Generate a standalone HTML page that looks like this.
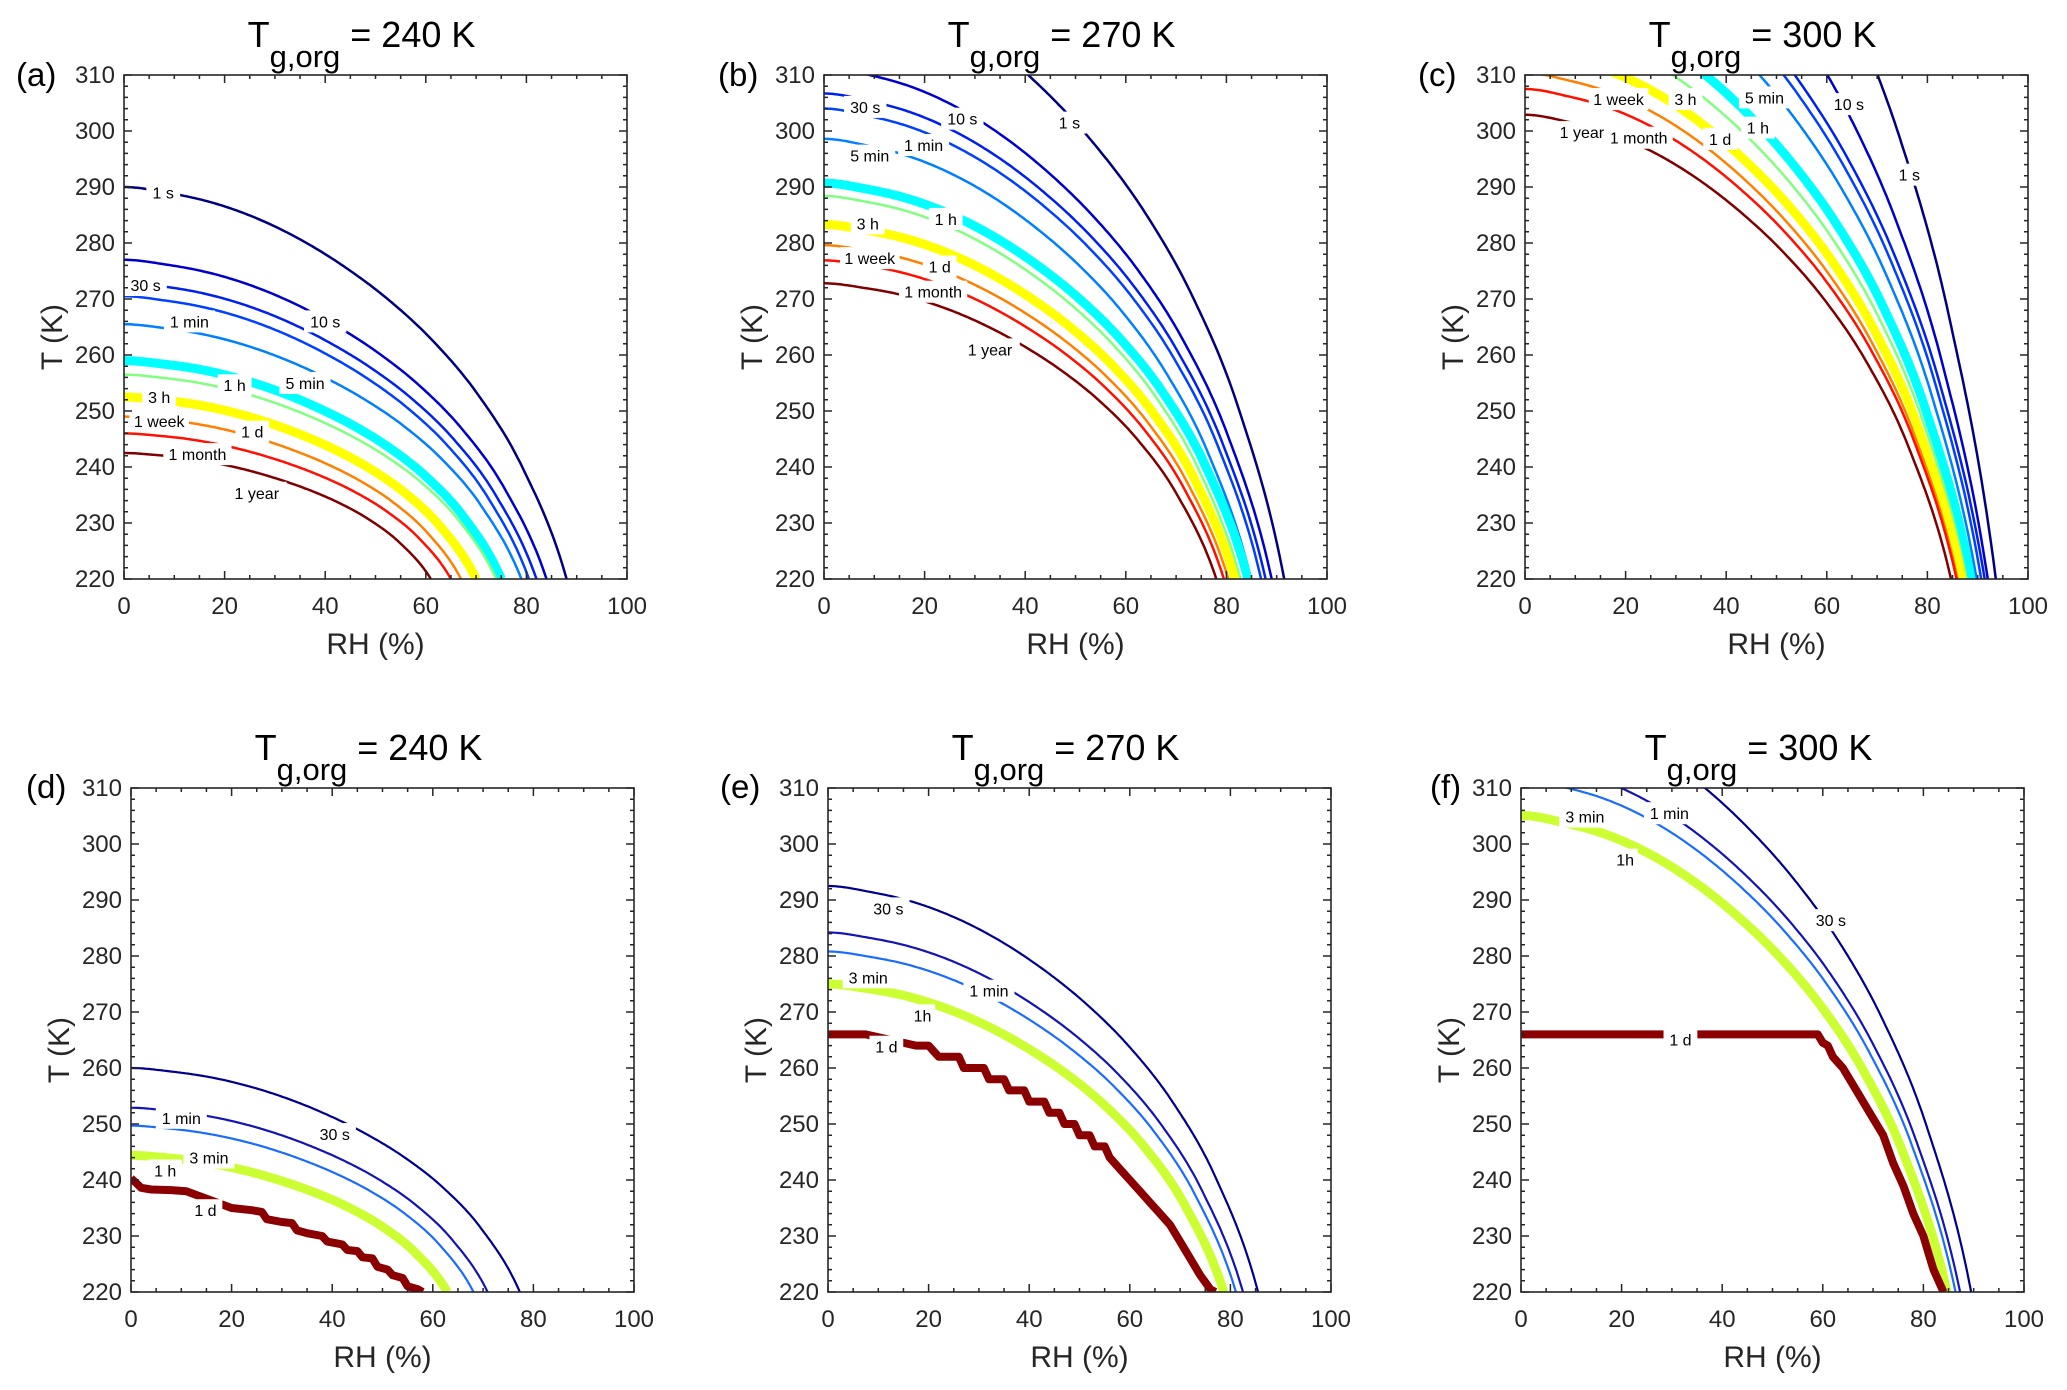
<!DOCTYPE html>
<html><head><meta charset="utf-8"><title>Contours of T vs RH for three T_g,org values</title>
<style>
html,body{margin:0;padding:0;background:#fff;}
svg{display:block;font-family:"Liberation Sans",Arial,sans-serif;}
</style></head>
<body>
<svg id="fig" width="2067" height="1390" viewBox="0 0 2067 1390" xmlns="http://www.w3.org/2000/svg">
<rect width="2067" height="1390" fill="#fff"/>
</svg>
<script>
// ---- shared axis data ----
const xTicksMajor = [0,20,40,60,80,100];
const yTicksMajor = [220,230,240,250,260,270,280,290,300,310];
// normalized contour shape profile (u = RH/RH0 on a uniform grid, f = (T-220)/(T0-220))
const shapeF = [1,0.985,0.96,0.92,0.865,0.795,0.71,0.605,0.47,0.285,0];

// ---- panel (a) ----
const aNames = ["1 s","10 s","30 s","1 min","5 min","1 h","3 h","1 d","1 week","1 month","1 year"];
const aT0 = [290,277,273,270.5,265.5,259,256.5,252.5,249,246,242.5];
const aRH0 = [88,84,82,80.5,79,75,74,70,67,65,61];
const aLabRH = [7.8,40,4.3,13,36,22,7,25.5,7,14.6,26.4];
const aLabT = [289,266,272.5,266,255,254.6,252.5,246.3,248.2,242.3,235.4];
// ---- panel (b) ----
const bNames = aNames;
const bT0 = [327.6,311.4,306.7,304,298.6,290.7,288.4,283.3,279.6,276.9,272.8];
const bRH0 = [91.5,89,87.8,86.9,84.9,84.3,82.8,81.7,80.4,79.5,78];
const bLabRH = [48.8,27.5,8.2,19.8,9.1,24.2,8.7,23,9.1,21.7,33];
const bLabT = [301.5,302.2,304.3,297.5,295.6,284.3,283.5,275.8,277.3,271.3,261];
// ---- panel (c) ----
const cNames = aNames;
const cT0 = [385.4,357,344.6,341.6,335.4,324.4,319.7,314.3,310.4,307.5,302.9];
const cRH0 = [93.6,92,91.4,90.7,89.8,88.7,87.8,86.9,86,85.8,84.7];
const cLabRH = [76.4,64.4,null,null,47.6,46.3,31.9,38.8,18.6,22.6,11.3];
const cLabT = [292.2,304.8,null,null,306,300.6,305.7,298.6,305.7,298.8,299.8];

// ---- panel (d) ----
const dNames = ["30 s","1 min","3 min","1 h"];
const dT0 = [260,252.9,249.7,244.4];
const dRH0 = [77.3,70.9,68.1,62.9];
const dLabRH = [40.5,10,15.5,6.8];
const dLabT = [248.2,251.1,244,241.7];
const dDayRH = [0,1,2,4,8,11,20,24,26,27,30,32,33,35,38,39,42,43,45,46,48,49,51,52,54,55,57,58];
const dDayT = [240.3,239.5,238.6,238.3,238.2,238,235,234.6,234.3,233,232.5,232.3,231,230.5,230,229,228.5,227.5,227.3,226.2,226,224.5,224,223,222.5,221,220.5,220];
const dDayLab = [14.8,234.6];
// ---- panel (e) ----
const eNames = ["30 s","1 min","3 min","1h"];
const eT0 = [292.5,284.2,280.8,275];
const eRH0 = [85.5,82.5,81.1,78.7];
const eLabRH = [12,32,8,18.8];
const eLabT = [288.5,273.8,276.2,269.4];
const eDayRH = [0,7.5,17.5,20,21,22,26,27,31,32,35,36,39,40,43,44,46,47,49,50,52,53,55,56,58,60,62,64,66,68,70,72,74,76,77];
const eDayT = [266,266,264,264,263,262,262,260,260,258,258,256,256,254,254,252,252,250,250,248,248,246,246,244,242,240,238,236,234,232,229,226,223,220.5,220];
const eDayLab = [11.6,263.8];
// ---- panel (f) ----
const fNames = ["30 s","1 min","3 min","1h"];
const fT0 = [324.7,314.7,311.5,305.1];
const fRH0 = [89.5,87.3,86.4,84.7];
const fLabRH = [61.6,29.5,12.7,20.7];
const fLabT = [286.4,305.5,304.9,297.2];
const fDayRH = [0,59,60,61,62,64,66,68,70,72,74,76,78,80,81,82,83,84];
const fDayT = [266,266,264.5,264,262,260,257,254,251,248,243,239,234,230,227,224,222,220];
const fDayLab = [31.7,265.1];

const topColors = ["#000080","#0000cc","#0020f0","#0040ff","#0080ff","#00ffff","#80ff80","#ffff00","#ff8000","#ff1000","#800000"];
const topWidths = [2.5,2.5,2.5,2.5,2.5,9,2.5,9,2.5,2.5,2.5];
const botColors = ["#00008f","#1414b4","#1a6cff","#ccff33"];
const botWidths = [2.2,2.2,2.2,9];

const NS="http://www.w3.org/2000/svg";
const svg=document.getElementById('fig');
function mk(tag,attrs,parent){const e=document.createElementNS(NS,tag);for(const k in attrs)e.setAttribute(k,attrs[k]);(parent||svg).appendChild(e);return e;}

// smooth cubic Hermite evaluation of the shape profile (uniform grid)
function shapeAt(u){
  const n=shapeF.length-1, h=1/n;
  let i=Math.min(n-1,Math.floor(u*n)); const t=(u-i*h)/h;
  const m=k=>{ if(k<=0) return 0; if(k>=n) return 1.4*(shapeF[n]-shapeF[n-1]); return (shapeF[k+1]-shapeF[k-1])/2; };
  const p0=shapeF[i],p1=shapeF[i+1],m0=m(i),m1=m(i+1);
  const t2=t*t,t3=t2*t;
  return (2*t3-3*t2+1)*p0+(t3-2*t2+t)*m0+(-2*t3+3*t2)*p1+(t3-t2)*m1;
}

function panel(cfg){
  const L=cfg.L,T=cfg.T,W=503,H=504;
  const sx=v=>L+v/100*W;
  const sy=v=>T+H-(v-220)/90*H;
  const g=mk('g',{});
  
  
  const cid='clip-'+cfg.id;
  const cp=mk('clipPath',{id:cid},g); mk('rect',{x:L,y:T,width:W,height:H},cp);
  const plot=mk('g',{'clip-path':'url(#'+cid+')'},g);
  
  
  cfg.t0.forEach((t0,i)=>{
    const rh0=cfg.rh0[i];
    const pts=[];
    for(let k=0;k<=200;k++){const u=k/200;pts.push(sx(u*rh0).toFixed(1)+","+sy(220+shapeAt(u)*(t0-220)).toFixed(1));}
    const p=mk('polyline',{points:pts.join(' '),fill:'none',stroke:cfg.colors[i],'stroke-width':cfg.widths[i]},plot);
    
    
  });
  if(cfg.dayRH){
    const pts=cfg.dayRH.map((r,k)=>sx(r).toFixed(1)+","+sy(cfg.dayT[k]).toFixed(1));
    const p=mk('polyline',{points:pts.join(' '),fill:'none',stroke:'#8b0000','stroke-width':8,'stroke-linejoin':'round'},plot);
    
    
  }
  const labs=[];
  cfg.names.forEach((n,i)=>{ if(cfg.labRH[i]!=null) labs.push([n,cfg.labRH[i],cfg.labT[i]]); });
  if(cfg.dayLab) labs.push(['1 d',cfg.dayLab[0],cfg.dayLab[1]]);
  labs.forEach(l=>{
    const x=sx(l[1]),y=sy(l[2]);
    const w=l[0].length*8.6+8;
    const r=mk('rect',{x:x-w/2,y:y-11,width:w,height:22,fill:'#fff'},plot);
    
    
    const t=mk('text',{x:x,y:y+6,'font-size':16,'text-anchor':'middle',fill:'#000'},plot);
    t.textContent=l[0];
    
    
  });
  const box=mk('rect',{x:L,y:T,width:W,height:H,fill:'none',stroke:'#262626','stroke-width':1.6},g);
  
  
  let d="";
  for(let v=0;v<=100;v+=5){const x=sx(v),len=(v%20===0)?8:4;d+=`M${x},${T+H}v${-len}M${x},${T}v${len}`;}
  for(let v=220;v<=310;v+=2){const y=sy(v),len=(v%10===0)?8:4;d+=`M${L},${y}h${len}M${L+W},${y}h${-len}`;}
  const tk=mk('path',{d:d,stroke:'#262626','stroke-width':1.5,fill:'none'},g);
  
  
  xTicksMajor.forEach(v=>{
    const t=mk('text',{x:sx(v),y:T+H+35,'font-size':24,'text-anchor':'middle',fill:'#262626'},g);
    t.textContent=v;
    
    
  });
  yTicksMajor.forEach(v=>{
    const t=mk('text',{x:L-9,y:sy(v)+8,'font-size':24,'text-anchor':'end',fill:'#262626'},g);
    t.textContent=v;
    
    
  });
  const xl=mk('text',{x:L+W/2,y:T+H+75,'font-size':30,'text-anchor':'middle',fill:'#262626'},g);
  xl.textContent='RH (%)';
  
  
  const yx=L-62,yy=T+H/2+10;
  const yl=mk('text',{x:yx,y:yy,'font-size':30,'text-anchor':'middle',fill:'#262626',transform:`rotate(-90 ${yx} ${yy})`},g);
  yl.textContent='T (K)';
  
  
  const ti=mk('text',{x:L+W/2-14,y:T-28,'font-size':36,'text-anchor':'middle',fill:'#000'},g);
  ti.innerHTML='T<tspan dy="20" font-size="31">g,org</tspan><tspan dy="-20"> = '+cfg.tg+' K</tspan>';
  
  
  const pl=mk('text',{x:L+cfg.labDx,y:T+cfg.labDy,'font-size':33,fill:'#000'},g);
  pl.textContent='('+cfg.id+')';
  
  
}

panel({id:'a',L:124,T:75,tg:240,names:aNames,t0:aT0,rh0:aRH0,labRH:aLabRH,labT:aLabT,colors:topColors,widths:topWidths,labDx:-108,labDy:11});
panel({id:'b',L:824,T:75,tg:270,names:bNames,t0:bT0,rh0:bRH0,labRH:bLabRH,labT:bLabT,colors:topColors,widths:topWidths,labDx:-106,labDy:11});
panel({id:'c',L:1525,T:75,tg:300,names:cNames,t0:cT0,rh0:cRH0,labRH:cLabRH,labT:cLabT,colors:topColors,widths:topWidths,labDx:-107,labDy:11});
panel({id:'d',L:131,T:788,tg:240,names:dNames,t0:dT0,rh0:dRH0,labRH:dLabRH,labT:dLabT,colors:botColors,widths:botWidths,dayRH:dDayRH,dayT:dDayT,dayLab:dDayLab,labDx:-105,labDy:10});
panel({id:'e',L:828,T:788,tg:270,names:eNames,t0:eT0,rh0:eRH0,labRH:eLabRH,labT:eLabT,colors:botColors,widths:botWidths,dayRH:eDayRH,dayT:eDayT,dayLab:eDayLab,labDx:-108,labDy:10});
panel({id:'f',L:1521,T:788,tg:300,names:fNames,t0:fT0,rh0:fRH0,labRH:fLabRH,labT:fLabT,colors:botColors,widths:botWidths,dayRH:fDayRH,dayT:fDayT,dayLab:fDayLab,labDx:-91,labDy:10});
</script>
</body></html>
